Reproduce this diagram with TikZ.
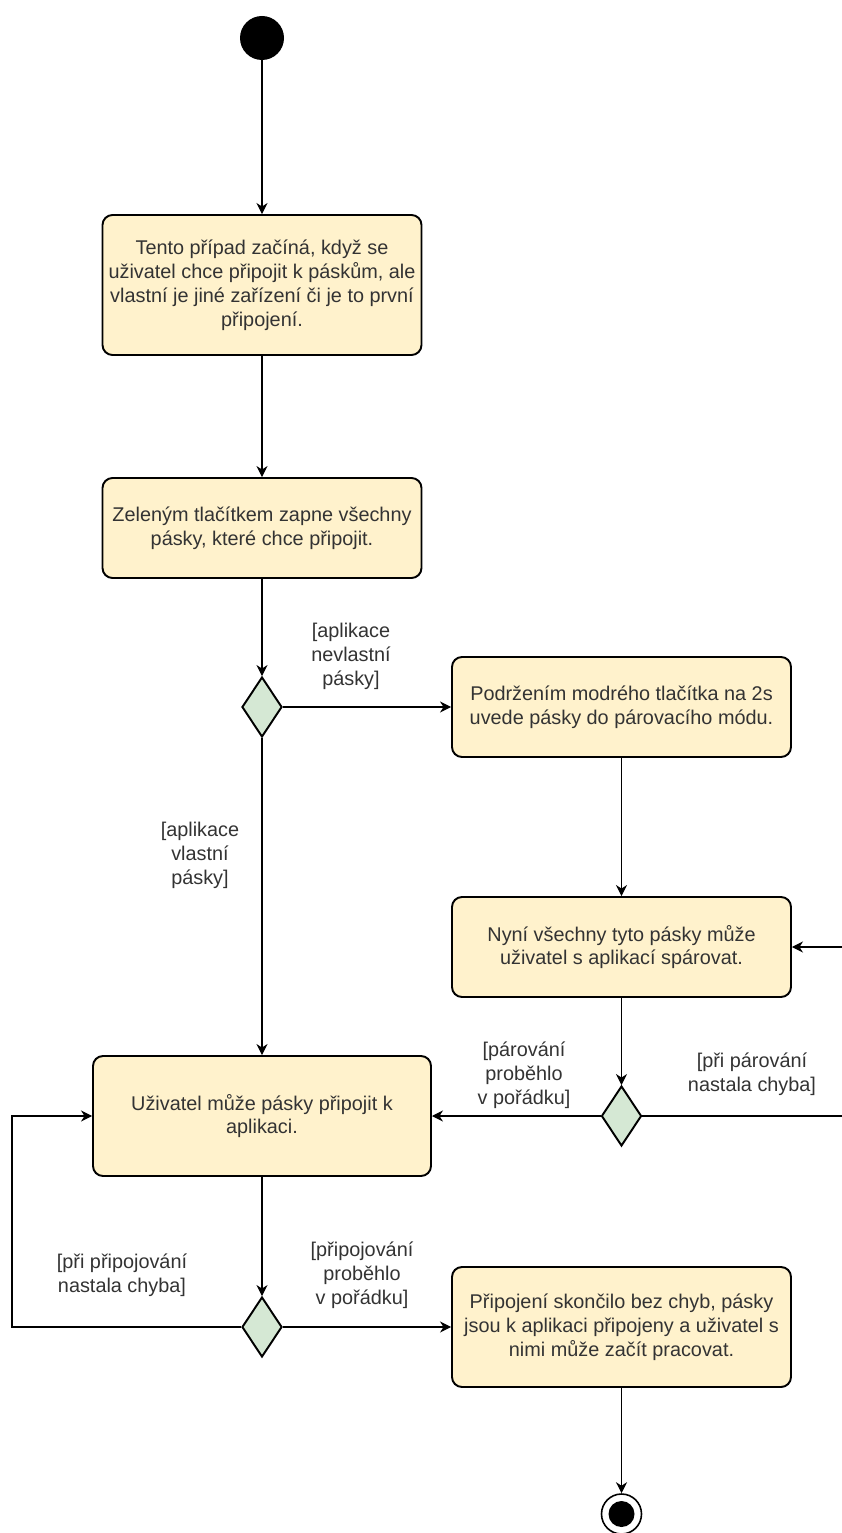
\documentclass[tikz,border=0pt]{standalone}
\usepackage{fontspec}
\setmainfont{Liberation Sans}
\usetikzlibrary{positioning,arrows.meta,shapes.geometric}
\definecolor{actfill}{HTML}{FFF2CC}
\definecolor{decfill}{HTML}{D5E8D4}
\definecolor{txt}{HTML}{333333}

\begin{document}
\begin{tikzpicture}[
  font=\fontsize{11.3}{13.6}\selectfont,
  action/.style={draw, line width=1.1pt, rounded corners=0.2cm, fill=actfill, align=center, text=txt, inner sep=0pt},
  decision/.style={draw, line width=1.1pt, diamond, fill=decfill, minimum width=0.8cm, minimum height=1.2cm, inner sep=0pt},
  guard/.style={align=center, text=txt},
  flow/.style={-{Stealth[length=2.2mm,width=2.2mm,inset=0.7mm]}, line width=0.6pt}
]
\useasboundingbox (0,0) rectangle (16.82,-30.66);

% Start and end
\node[circle, fill=black, minimum size=0.88cm, inner sep=0pt] (start) at (5.24,-0.76) {};
\node[circle, draw, line width=0.9pt, fill=white, minimum size=0.8cm, inner sep=0pt] (end) at (12.43,-30.28) {};
\node[circle, fill=black, minimum size=0.52cm, inner sep=0pt] (endDot) at (end.center) {};

% Actions
\node[action, minimum width=6.38cm, minimum height=2.8cm] (box1) at (5.24,-5.70)
  {Tento případ začíná, když se\\uživatel chce připojit k páskům, ale\\vlastní je jiné zařízení či je to první\\připojení.};
\node[action, minimum width=6.38cm, minimum height=2.0cm] (box2) at (5.24,-10.56)
  {Zeleným tlačítkem zapne všechny\\pásky, které chce připojit.};
\node[action, minimum width=6.78cm, minimum height=2.0cm] (box3) at (12.43,-14.14)
  {Podržením modrého tlačítka na 2s\\uvede pásky do párovacího módu.};
\node[action, minimum width=6.78cm, minimum height=2.0cm] (box4) at (12.43,-18.94)
  {Nyní všechny tyto pásky může\\uživatel s aplikací spárovat.};
\node[action, minimum width=6.76cm, minimum height=2.4cm] (box5) at (5.24,-22.32)
  {Uživatel může pásky připojit k\\aplikaci.};
\node[action, minimum width=6.78cm, minimum height=2.4cm] (box6) at (12.43,-26.54)
  {Připojení skončilo bez chyb, pásky\\jsou k aplikaci připojeny a uživatel s\\nimi může začít pracovat.};

% Decisions
\node[decision] (d1) at (5.24,-14.14) {};
\node[decision] (d2) at (12.43,-22.32) {};
\node[decision] (d3) at (5.24,-26.54) {};

% Loop corners
\coordinate (loopR) at (17.2,-22.32);
\coordinate (loopL) at (0.24,-26.54);

% Flows
\draw[flow] (start) -- (box1);
\draw[flow] (box1) -- (box2);
\draw[flow] (box2) -- (d1);
\draw[flow] (d1) -- (box3);
\draw[flow] (d1) -- (box5);
\draw[flow] (box3) -- (box4);
\draw[flow] (box4) -- (d2);
\draw[flow] (d2) -- (box5);
\draw[flow] (d2.east) -- (loopR) |- (box4.east);
\draw[flow] (box5) -- (d3);
\draw[flow] (d3.west) -- (loopL) |- (box5.west);
\draw[flow] (d3) -- (box6);
\draw[flow] (box6) -- (end);

% Guards
\node[guard] (g1) at (7.02,-13.12) {[aplikace\\nevlastní\\pásky]};
\node[guard] (g2) at (4.0,-17.1) {[aplikace\\vlastní\\pásky]};
\node[guard] (g3) at (10.48,-21.5) {[párování\\proběhlo\\v pořádku]};
\node[guard] (g4) at (15.04,-21.48) {[při párování\\nastala chyba]};
\node[guard] (g5) at (2.44,-25.5) {[při připojování\\nastala chyba]};
\node[guard] (g6) at (7.24,-25.5) {[připojování\\proběhlo\\v pořádku]};
\end{tikzpicture}
\end{document}
